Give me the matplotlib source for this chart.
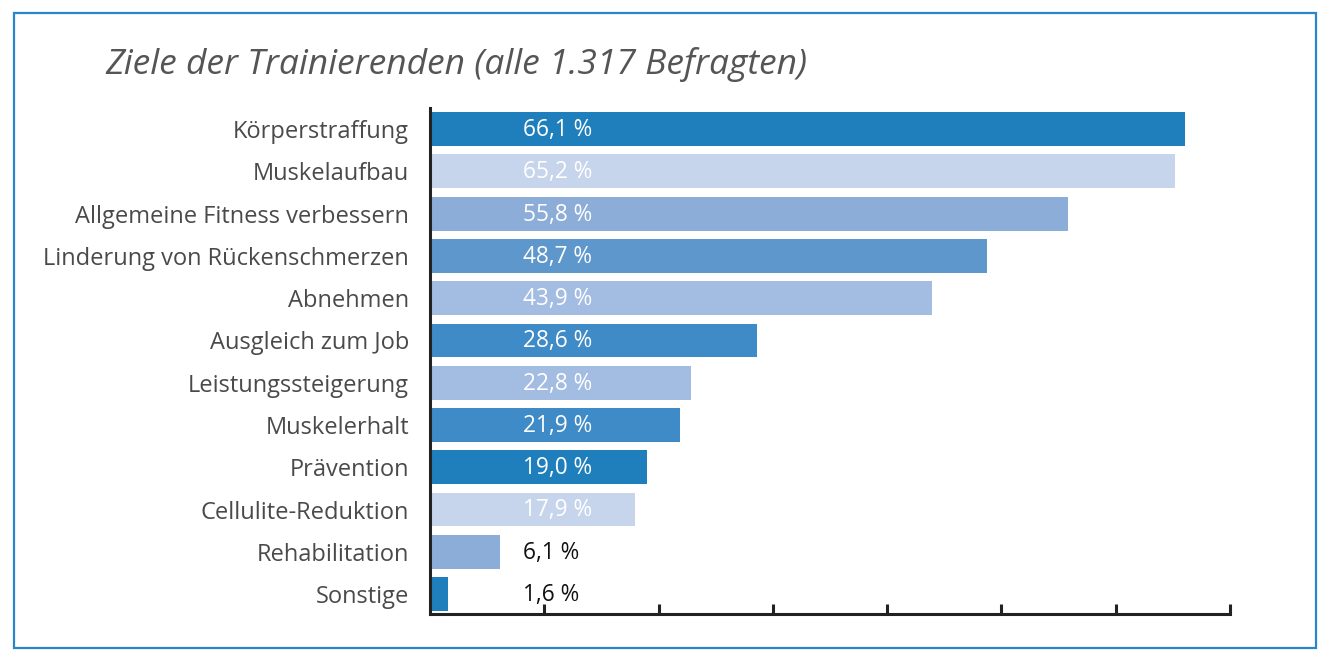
import matplotlib.pyplot as plt
from matplotlib.patches import Rectangle

plt.rcParams['font.family'] = ['Open Sans', 'DejaVu Sans']

categories = ['Körperstraffung', 'Muskelaufbau', 'Allgemeine Fitness verbessern',
              'Linderung von Rückenschmerzen', 'Abnehmen', 'Ausgleich zum Job',
              'Leistungssteigerung', 'Muskelerhalt', 'Prävention',
              'Cellulite-Reduktion', 'Rehabilitation', 'Sonstige']
values = [66.1, 65.2, 55.8, 48.7, 43.9, 28.6, 22.8, 21.9, 19.0, 17.9, 6.1, 1.6]
labels = ['66,1 %', '65,2 %', '55,8 %', '48,7 %', '43,9 %', '28,6 %',
          '22,8 %', '21,9 %', '19,0 %', '17,9 %', '6,1 %', '1,6 %']

c_dark = '#1f7fbd'
c_mid = '#3f8bc7'
c_med = '#5e97cc'
c_soft = '#8cadd8'
c_pale = '#a3bce2'
c_light = '#c6d5ec'
colors = [c_dark, c_light, c_soft, c_med, c_pale, c_mid,
          c_pale, c_mid, c_dark, c_light, c_soft, c_dark]

fig = plt.figure(figsize=(13.33, 6.63), dpi=100)
ax = fig.add_axes([430 / 1333, 1 - 614 / 663, 800 / 1333, 506 / 663])

y = list(range(len(categories)))
ax.barh(y, values, height=0.8, color=colors)
ax.set_xlim(0, 70)
ax.set_ylim(len(categories) - 0.53, -0.5)

for i, (v, lab) in enumerate(zip(values, labels)):
    col = 'white' if v > 10 else '#111111'
    ax.text(8.1, i + 0.02, lab, ha='left', va='center', fontsize=16.3, color=col)

ax.set_yticks(y)
ax.set_yticklabels(categories, fontsize=17, color='#4a4a4a')
ax.tick_params(axis='y', length=0, pad=15)
ax.set_xticks(range(10, 71, 10))
ax.set_xticklabels([])
ax.tick_params(axis='x', direction='in', length=7, width=2.2, color='#222222')

for s in ['top', 'right']:
    ax.spines[s].set_visible(False)
for s in ['left', 'bottom']:
    ax.spines[s].set_linewidth(2.2)
    ax.spines[s].set_color('#222222')

fig.text(105 / 1333, 1 - 64 / 663, 'Ziele der Trainierenden (alle 1.317 Befragten)',
         fontsize=25.5, style='italic', color='#555555', ha='left', va='center')

fig.patches.append(Rectangle((14 / 1333, 1 - 648 / 663), 1302 / 1333, 635 / 663,
                             transform=fig.transFigure, fill=False,
                             edgecolor='#2a86c8', linewidth=1.6))

fig.savefig('out.png', dpi=100)
